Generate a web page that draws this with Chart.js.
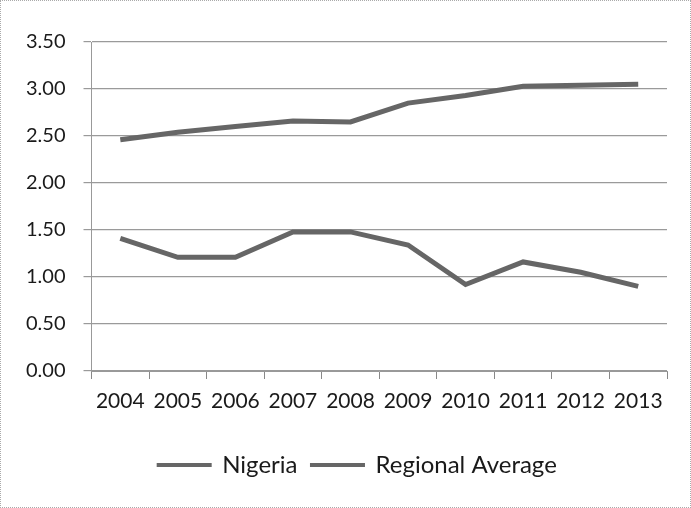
<!DOCTYPE html>
<html><head><meta charset="utf-8">
<script src="https://cdn.jsdelivr.net/npm/chart.js@4.4.0/dist/chart.umd.min.js"></script>
<style>
html,body{margin:0;padding:0;background:#fff;}
#wrap{position:absolute;left:0;top:0;width:689px;height:506px;border:1px dotted #aaa;}
canvas{display:block;}
</style></head>
<body><div id="wrap"><canvas id="c" width="689" height="506"></canvas></div>
<script>
const categories = ['2004','2005','2006','2007','2008','2009','2010','2011','2012','2013'];
const nigeria = [1.41,1.21,1.21,1.48,1.48,1.34,0.92,1.16,1.05,0.90];
const regionalAverage = [2.46,2.54,2.60,2.66,2.65,2.85,2.93,3.03,3.04,3.05];
const yTicks = [0,0.5,1,1.5,2,2.5,3,3.5];

const lineColor = '#666666';
const font = "Lato, 'Open Sans', sans-serif";
const shiftLegend = {
  id:'shiftLegend',
  afterLayout(chart){ if (chart.legend){ chart.legend.left += 20; chart.legend.right += 20; } }
};
new Chart(document.getElementById('c'), {
  type: 'line',
  data: {
    labels: categories,
    datasets: [
      {label:'Nigeria', data:nigeria, borderColor:lineColor, backgroundColor:lineColor, borderWidth:5, pointRadius:0, tension:0},
      {label:'Regional Average', data:regionalAverage, borderColor:lineColor, backgroundColor:lineColor, borderWidth:5, pointRadius:0, tension:0}
    ]
  },
  plugins:[shiftLegend],
  options: {
    responsive:false, animation:false,
    layout:{padding:{left:7,right:23,top:41,bottom:20}},
    plugins:{
      legend:{position:'bottom', labels:{
        boxWidth:52, boxHeight:1, color:'#1a1a1a', font:{family:font,size:24}, padding:14,
        generateLabels: chart => Chart.defaults.plugins.legend.labels.generateLabels(chart).map(l => Object.assign(l, {lineWidth:3}))
      }},
      tooltip:{enabled:false}
    },
    scales:{
      x:{
        offset:true,
        afterFit: ax => { ax.height = 68; },
        grid:{display:true, offset:true, drawOnChartArea:false, tickLength:8, color:'#888'},
        border:{color:'#999'},
        ticks:{color:'#1a1a1a', font:{family:font,size:21}, maxRotation:0, autoSkip:false, padding:10}
      },
      y:{
        min:0, max:3.5,
        afterBuildTicks: ax => { ax.ticks = yTicks.map(v=>({value:v})); },
        grid:{color:'#9a9a9a', tickLength:8, lineWidth:1.2},
        border:{color:'#999', display:true},
        ticks:{color:'#1a1a1a', font:{family:font,size:20}, padding:18, callback:v=>Number(v).toFixed(2)}
      }
    }
  }
});
</script></body></html>
